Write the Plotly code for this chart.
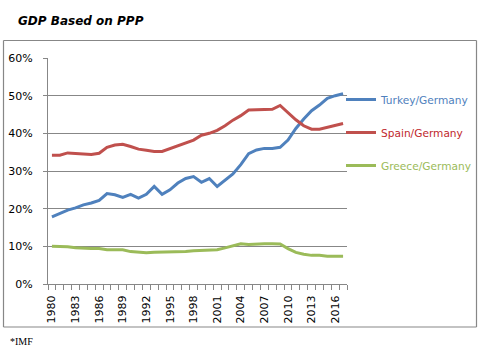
import plotly.graph_objects as go

years = list(range(1980, 2018))
turkey = [17.8, 18.8, 19.6, 20.2, 21.0, 21.5, 22.2, 24.0, 23.7, 23.0, 23.8, 22.8, 23.8, 25.9, 23.8, 25.0,
          26.8, 28.0, 28.5, 27.0, 28.0, 25.9, 27.5, 29.2, 31.7, 34.6, 35.6, 36.0, 36.0, 36.3, 38.2, 41.3,
          43.8, 46.0, 47.5, 49.3, 50.0, 50.5]
spain = [34.2, 34.2, 34.8, 34.7, 34.4, 34.4, 34.7, 36.3, 36.9, 37.1, 36.5, 35.8, 35.5, 35.2, 35.2, 35.9,
         36.6, 37.3, 38.2, 39.5, 40.0, 40.8, 42.0, 43.5, 44.7, 46.2, 46.2, 46.4, 46.4, 47.4, 45.5, 43.6,
         42.0, 41.1, 41.1, 41.6, 42.3, 42.6]
greece = [10.0, 10.0, 9.9, 9.6, 9.4, 9.4, 9.4, 9.1, 9.1, 9.1, 8.6, 8.4, 8.3, 8.4, 8.4, 8.4,
          8.4, 8.6, 8.8, 8.9, 8.9, 9.1, 9.6, 10.1, 10.7, 10.5, 10.7, 10.7, 10.7, 10.6, 9.4, 8.4,
          7.9, 7.6, 7.6, 7.4, 7.4, 7.4]
names = ["Turkey/Germany", "Spain/Germany", "Greece/Germany"]
colors = ["#4F81BD", "#C0504D", "#9BBB59"]
text_colors = ["#4F81BD", "#C0282D", "#9BBB59"]
label_years = list(range(1980, 2018, 3))
ytick_vals = [0, 10, 20, 30, 40, 50, 60]

W, H = 491, 363
L, R, T, B = 48, 144, 58, 79
pw, ph = W - L - R, H - T - B

def px(x):
    return (x - L) / pw

def py(y):
    return (H - B - y) / ph

fig = go.Figure()
for n, s, c, tc in zip(names, [turkey, spain, greece], colors, text_colors):
    fig.add_trace(go.Scatter(
        x=years, y=[v / 100 for v in s], mode="lines",
        name=f"<span style='color:{tc}'>{n}</span>",
        line=dict(color=c, width=3), legendgroup=n,
    ))

grid = "#878787"
fx0, fx1, fy0, fy1 = px(3.5), px(476.5), py(327), py(40.5)
frame = [
    dict(x0=fx0, x1=fx1, y0=fy0, y1=fy0),
    dict(x0=fx0, x1=fx1, y0=fy1, y1=fy1),
    dict(x0=fx0, x1=fx0, y0=fy0, y1=fy1),
    dict(x0=fx1, x1=fx1, y0=fy0, y1=fy1),
]
shapes = [dict(type="line", xref="paper", yref="paper", line=dict(color=grid, width=1.2),
               layer="above", **f) for f in frame]

fig.update_layout(
    width=W, height=H,
    margin=dict(l=L, r=R, t=T, b=B, autoexpand=False),
    paper_bgcolor="white", plot_bgcolor="white",
    font=dict(family="DejaVu Sans", size=11, color="#000000"),
    title=dict(text="<b><i>GDP Based on PPP</i></b>", xref="container", yref="container",
               x=18 / W, xanchor="left", y=1 - 21 / H, yanchor="middle",
               font=dict(family="DejaVu Sans", size=12, color="#000000")),
    legend=dict(xref="container", yref="container", x=341 / W, xanchor="left",
                y=1 - 85 / H, yanchor="top",
                font=dict(family="DejaVu Sans", size=10.6),
                tracegroupgap=14, bgcolor="rgba(0,0,0,0)"),
    xaxis=dict(range=[1979.5, 2017.5], tickmode="array", tickvals=label_years,
               ticktext=[str(y) for y in label_years], tickangle=-90,
               ticks="", showgrid=False, showline=True, linecolor=grid, linewidth=1,
               zeroline=False, ticklabelstandoff=6, automargin=False,
               tickfont=dict(family="DejaVu Sans", size=11),
               minor=dict(tickmode="linear", tick0=1979.5, dtick=1, ticks="outside",
                          ticklen=5, tickcolor=grid, showgrid=False)),
    yaxis=dict(range=[0, 0.6], tickvals=[v / 100 for v in ytick_vals], tickformat=".0%",
               showgrid=True, gridcolor=grid, gridwidth=1, showline=True, linecolor=grid,
               linewidth=1, zeroline=False, ticks="outside", ticklen=4, tickcolor=grid,
               ticklabelstandoff=8, automargin=False, tickfont=dict(family="DejaVu Sans", size=11)),
    shapes=shapes,
    annotations=[dict(text="*IMF", xref="paper", yref="paper", x=px(8), y=py(341),
                      xanchor="left", yanchor="middle", showarrow=False,
                      font=dict(family="Liberation Serif", size=10, color="#000000"))],
)

fig.write_html("out.html", config={"displayModeBar": False},
               post_script="document.body.style.margin='0';document.body.style.overflow='hidden';")
